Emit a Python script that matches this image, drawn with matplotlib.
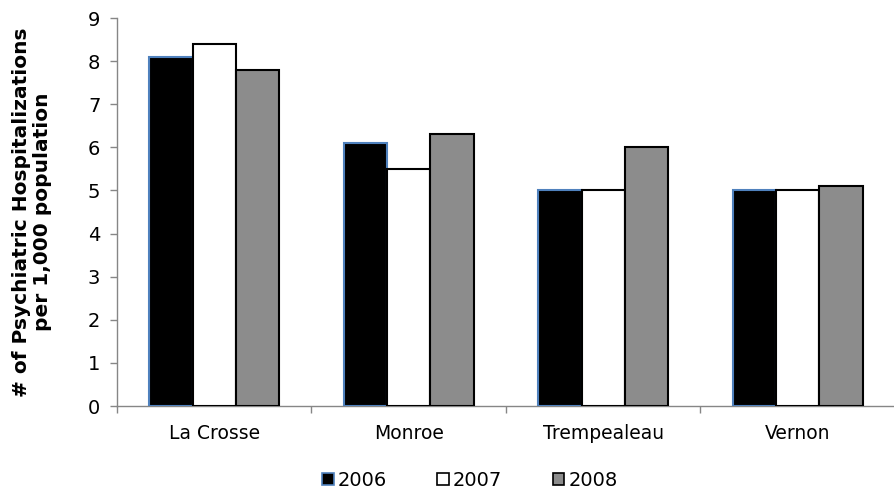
import numpy as np
import matplotlib
matplotlib.use("Agg")
import matplotlib.pyplot as plt
from matplotlib.patches import Patch

plt.rcParams.update({"font.family": "DejaVu Sans"})

# ---- data -----------------------------------------------------------------
counties = ["La Crosse", "Monroe", "Trempealeau", "Vernon"]
years = ["2006", "2007", "2008"]
v2006 = [8.1, 6.1, 5.0, 5.0]
v2007 = [8.4, 5.5, 5.0, 5.0]
v2008 = [7.8, 6.3, 6.0, 5.1]

# ---- figure ---------------------------------------------------------------
fig = plt.figure(figsize=(8.95, 4.95), dpi=100)
ax = fig.add_axes([117 / 895, 89 / 495, 1 - 117 / 895, 388 / 495])

x = np.arange(len(counties))
w = 0.222
styles = [
    (v2006, "#000000", "#4F81BD"),
    (v2007, "#FFFFFF", "#000000"),
    (v2008, "#8C8C8C", "#000000"),
]
handles = []
for i, (vals, fc, ec) in enumerate(styles):
    ax.bar(x + (i - 1) * w, vals, width=w, color=fc, edgecolor=ec,
           linewidth=1.5, zorder=3)
    handles.append(Patch(facecolor=fc, edgecolor=ec, linewidth=1.2, label=years[i]))

ax.set_xlim(-0.5, 3.5)
ax.set_ylim(0, 9)
ax.set_yticks(range(10))
ax.set_xticks(x)
ax.set_xticklabels(counties)
ax.tick_params(axis="x", length=0, labelsize=13.5, pad=13)
ax.set_xticks(np.arange(-0.5, 3.6, 1), minor=True)
ax.tick_params(axis="x", which="minor", length=5, color="#868686", width=1)
ax.tick_params(axis="y", length=5, color="#868686", width=1, labelsize=14, pad=7)

for s in ("top", "right"):
    ax.spines[s].set_visible(False)
for s in ("left", "bottom"):
    ax.spines[s].set_color("#868686")
    ax.spines[s].set_linewidth(1)

ax.set_ylabel("# of Psychiatric Hospitalizations\nper 1,000 population",
              fontsize=14.5, fontweight="bold", labelpad=26, linespacing=1.1)

fig.legend(handles=handles, loc="center", bbox_to_anchor=(0.525, 0.03),
           ncol=3, frameon=False, fontsize=14, handlelength=0.6,
           handleheight=0.6, handletextpad=0.2, columnspacing=2.6)

fig.savefig("out.png", dpi=100)
